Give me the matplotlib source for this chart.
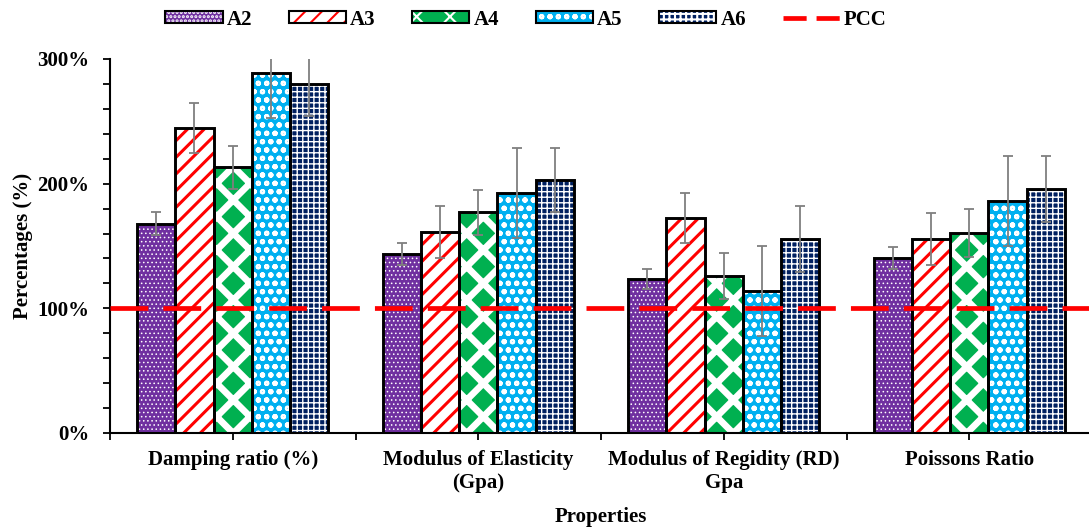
import numpy as np
import matplotlib
matplotlib.use('Agg')
import matplotlib.pyplot as plt
from matplotlib.patches import Patch
from matplotlib.lines import Line2D
from matplotlib.ticker import PercentFormatter, MultipleLocator

plt.rcParams['font.family'] = ['Liberation Serif', 'DejaVu Serif']
plt.rcParams['font.weight'] = 'bold'
plt.rcParams['hatch.linewidth'] = 1.5

# 数据 (相对 PCC 的百分比, 1.0 = 100%)
categories = ['Damping ratio (%)', 'Modulus of Elasticity\n(Gpa)',
              'Modulus of Regidity (RD)\nGpa', 'Poissons Ratio']
series = ['A2', 'A3', 'A4', 'A5', 'A6']
A2 = [1.68, 1.435, 1.235, 1.405]
A3 = [2.45, 1.61, 1.725, 1.555]
A4 = [2.13, 1.77, 1.26, 1.605]
A5 = [2.89, 1.925, 1.14, 1.86]
A6 = [2.80, 2.03, 1.555, 1.955]
A2_err = [0.09, 0.09, 0.08, 0.09]
A3_err = [0.20, 0.21, 0.20, 0.21]
A4_err = [0.17, 0.18, 0.185, 0.19]
A5_err = [0.36, 0.36, 0.36, 0.36]
A6_err = [0.26, 0.26, 0.265, 0.265]
pcc = 1.0

values = [A2, A3, A4, A5, A6]
errors = [A2_err, A3_err, A4_err, A5_err, A6_err]

# 样式: (底色, 花纹颜色, 花纹, 花纹线宽)
styles = [
    ('#7030A0', 'white', '....', 0.6),
    ('white', '#FF0000', '//', 2.2),
    ('#00B050', 'white', 'x', 4.8),
    ('#00B0F0', 'white', 'oo', 1.5),
    ('#002060', 'white', '+++', 1.0),
]


def set_hatch_lw(artist, lw):
    """不同版本兼容: 单独设置花纹线宽"""
    if hasattr(artist, 'set_hatch_linewidth'):
        artist.set_hatch_linewidth(lw)


fig = plt.figure(figsize=(10.89, 5.28), dpi=100)
ax = fig.add_axes([110 / 1089, 1 - 433 / 528, 982 / 1089, 374 / 528])

x = np.arange(len(categories))
w = 0.156
for i, (vals, errs, (fc, hc, hatch, hlw)) in enumerate(zip(values, errors, styles)):
    pos = x + (i - 2) * w
    with plt.rc_context({'hatch.linewidth': hlw}):
        bars = ax.bar(pos, vals, w, color=fc, edgecolor=hc, hatch=hatch, linewidth=0, zorder=2)
    for b in bars:
        set_hatch_lw(b, hlw)
    ax.bar(pos, vals, w, fill=False, edgecolor='black', linewidth=2.1, zorder=3)
    ax.errorbar(pos, vals, yerr=errs, fmt='none', ecolor='#7F7F7F',
                elinewidth=1.3, capsize=3.5, capthick=1.3, zorder=4)

ax.axhline(pcc, color='#FF0000', linewidth=3.4, dashes=(8.0, 3.2), zorder=5)

ax.set_xlim(-0.5, 3.5)
ax.set_ylim(0, 3.0)
ax.yaxis.set_major_locator(MultipleLocator(1.0))
ax.yaxis.set_minor_locator(MultipleLocator(0.2))
ax.yaxis.set_major_formatter(PercentFormatter(1.0, decimals=0))
ax.set_xticks(x)
ax.set_xticklabels(categories)
ax.set_xticks(np.arange(-0.5, 4.0, 1.0), minor=True)

for s in ['top', 'right']:
    ax.spines[s].set_visible(False)
for s in ['left', 'bottom']:
    ax.spines[s].set_linewidth(1.5)
ax.tick_params(axis='y', which='both', direction='out', length=5, width=1.3,
               labelsize=15, pad=10)
ax.tick_params(axis='x', which='both', direction='out', length=5, width=1.3,
               labelsize=15, pad=7)

ax.set_ylabel('Percentages (%)', fontsize=15, fontweight='bold', labelpad=3)
ax.set_xlabel('Properties', fontsize=15, fontweight='bold', labelpad=10)

# 图例
handles = []
for fc, hc, h, hlw in styles:
    with plt.rc_context({'hatch.linewidth': hlw}):
        hp = Patch(facecolor=fc, edgecolor=hc, hatch=h, linewidth=0)
    set_hatch_lw(hp, hlw)
    handles.append((hp, Patch(fill=False, edgecolor='black', linewidth=1.5)))
handles.append(Line2D([0], [0], color='#FF0000', linewidth=3.4, dashes=(4.9, 2.1)))
labels = series + ['PCC']
fig.legend(handles, labels, loc='center', bbox_to_anchor=(0.483, 0.963), ncol=6,
           frameon=False, fontsize=15, handlelength=2.75, handleheight=0.5,
           columnspacing=1.75, handletextpad=0.2)

fig.savefig('out.png', dpi=100)
